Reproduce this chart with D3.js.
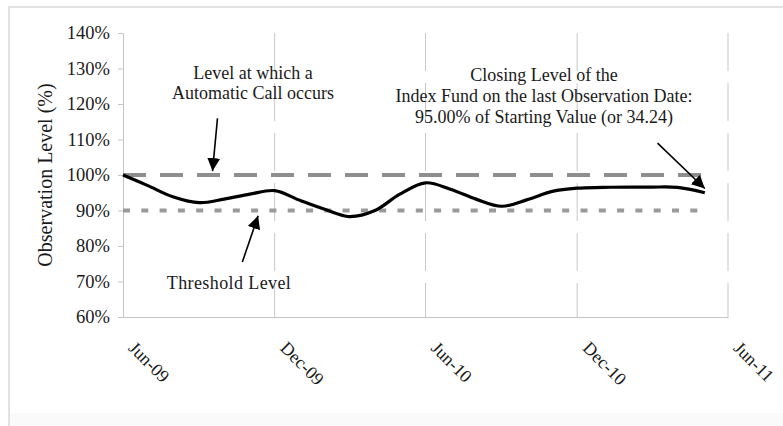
<!DOCTYPE html>
<html>
<head>
<meta charset="utf-8">
<script src="https://cdn.jsdelivr.net/npm/d3@7"></script>
<style>
  html, body { margin: 0; padding: 0; background: #fff; }
  svg { display: block; }
  text { font-family: "Liberation Serif", "Times New Roman", serif; fill: #1a1a1a; }
</style>
</head>
<body>
<svg id="chart" width="783" height="426"></svg>
<script>
// Observation dates and index level (as % of starting value)
const obsDates = [
  "2009-06-01", "2009-07-01", "2009-08-01", "2009-09-01", "2009-10-01", "2009-11-01",
  "2009-12-01", "2010-01-01", "2010-02-01", "2010-03-01", "2010-04-01", "2010-05-01",
  "2010-06-01", "2010-07-01", "2010-08-01", "2010-09-01", "2010-10-01", "2010-11-01",
  "2010-12-01", "2011-01-01", "2011-02-01", "2011-03-01", "2011-04-01", "2011-05-04"
];
const obsLevels = [
  100.0, 97.0, 93.8, 92.2, 93.2, 94.6,
  95.6, 92.8, 90.2, 88.3, 90.0, 94.6,
  97.8, 96.0, 93.2, 91.2, 93.0, 95.4,
  96.3, 96.5, 96.6, 96.6, 96.5, 95.0
];

// Reference levels
const callLevel = 100;
const thresholdLevel = 90;

// Axis ticks
const xTickDates = ["2009-06-01", "2009-12-01", "2010-06-01", "2010-12-01", "2011-06-01"];
const xTickLabels = ["Jun-09", "Dec-09", "Jun-10", "Dec-10", "Jun-11"];
const yTickValues = [60, 70, 80, 90, 100, 110, 120, 130, 140];

const parse = d3.timeParse("%Y-%m-%d");
const data = obsDates.map((d, i) => ({ date: parse(d), value: obsLevels[i] }));

const svg = d3.select("#chart");
const plotL = 123, plotR = 728, plotT = 33, plotB = 317;

const x = d3.scaleTime()
  .domain([parse(xTickDates[0]), parse(xTickDates[xTickDates.length - 1])])
  .range([plotL, plotR]);
const y = d3.scaleLinear().domain([60, 140]).range([plotB, plotT]);

// Frame
svg.append("rect").attr("x", 10).attr("y", 413).attr("width", 773).attr("height", 13).attr("fill", "#fafafa");
svg.append("line").attr("x1", 9).attr("x2", 9).attr("y1", 6).attr("y2", 426)
  .attr("stroke", "#e2e2e2").attr("stroke-width", 2);
svg.append("line").attr("x1", 8).attr("x2", 783).attr("y1", 7).attr("y2", 7)
  .attr("stroke", "#e2e2e2").attr("stroke-width", 2);

// Vertical gridlines
svg.append("g")
  .selectAll("line")
  .data(xTickDates.slice(1))
  .join("line")
  .attr("x1", d => x(parse(d))).attr("x2", d => x(parse(d)))
  .attr("y1", plotT).attr("y2", plotB)
  .attr("stroke", "#c8c8c8").attr("stroke-width", 1)
  .attr("stroke-dasharray", "38,12");

// Y axis
const yAxis = svg.append("g")
  .attr("transform", `translate(${plotL},0)`)
  .call(d3.axisLeft(y).tickValues(yTickValues).tickFormat(d => d + "%").tickSize(5).tickPadding(8));
yAxis.select(".domain").attr("stroke", "#c4c4c4");
yAxis.selectAll(".tick line").attr("stroke", "#c4c4c4");
yAxis.selectAll(".tick text")
  .attr("font-family", "Liberation Serif, Times New Roman, serif")
  .attr("font-size", 18.5).attr("fill", "#1a1a1a");

// X axis
const xAxis = svg.append("g")
  .attr("transform", `translate(0,${plotB})`)
  .call(d3.axisBottom(x).tickValues(xTickDates.map(parse)).tickFormat((d, i) => xTickLabels[i]).tickSize(0).tickPadding(0));
xAxis.select(".domain").attr("stroke", "#c4c4c4");
xAxis.selectAll(".tick text")
  .attr("font-family", "Liberation Serif, Times New Roman, serif")
  .attr("font-size", 18).attr("fill", "#1a1a1a")
  .attr("text-anchor", "start")
  .attr("dy", null).attr("y", null)
  .attr("transform", "translate(4,32) rotate(45)");

// Y axis title
svg.append("text")
  .attr("transform", `translate(52,${(plotT + plotB) / 2}) rotate(-90)`)
  .attr("text-anchor", "middle")
  .attr("font-size", 20)
  .text("Observation Level (%)");

// Reference lines across the observation period
const firstDate = data[0].date, lastDate = data[data.length - 1].date;
svg.append("line")
  .attr("x1", x(firstDate)).attr("x2", x(lastDate))
  .attr("y1", y(callLevel)).attr("y2", y(callLevel))
  .attr("stroke", "#8e8e8e").attr("stroke-width", 4)
  .attr("stroke-dasharray", "23,14");
svg.append("line")
  .attr("x1", x(firstDate)).attr("x2", x(lastDate))
  .attr("y1", y(thresholdLevel)).attr("y2", y(thresholdLevel))
  .attr("stroke", "#9a9a9a").attr("stroke-width", 4)
  .attr("stroke-dasharray", "7,11.3");

// Index level line
const levelLine = d3.line()
  .x(d => x(d.date))
  .y(d => y(d.value))
  .curve(d3.curveCatmullRom.alpha(0.5));
svg.append("path")
  .datum(data)
  .attr("fill", "none")
  .attr("stroke", "#000")
  .attr("stroke-width", 3.2)
  .attr("d", levelLine);

// Arrow head
svg.append("defs").append("marker")
  .attr("id", "head")
  .attr("markerUnits", "userSpaceOnUse")
  .attr("viewBox", "0 0 12 12")
  .attr("refX", 12).attr("refY", 6)
  .attr("markerWidth", 13).attr("markerHeight", 13)
  .attr("orient", "auto")
  .append("path").attr("d", "M0,0 L12,6 L0,12 Z").attr("fill", "#000");

function arrow(d0, v0, d1, v1) {
  svg.append("line")
    .attr("x1", x(parse(d0))).attr("y1", y(v0))
    .attr("x2", x(parse(d1))).attr("y2", y(v1))
    .attr("stroke", "#000").attr("stroke-width", 1.6)
    .attr("marker-end", "url(#head)");
}

function label(lines, cx, baseline, spacing, tracking) {
  const t = svg.append("text").attr("text-anchor", "middle").attr("font-size", 18)
    .attr("letter-spacing", tracking || 0);
  lines.forEach((s, i) => {
    t.append("tspan").attr("x", cx).attr("y", baseline + i * spacing).text(s);
  });
}

label(["Level at which a", "Automatic Call occurs"], 253, 79, 20);
arrow("2009-09-23", 116, "2009-09-17", 101.1);

label(["Threshold Level"], 229, 289, 0, 0.4);
arrow("2009-10-23", 75.5, "2009-11-11", 88.5);

label(["Closing Level of the", "Index Fund on the last Observation Date:",
       "95.00% of Starting Value (or 34.24)"], 544, 81, 21);
arrow("2011-03-08", 109, obsDates[obsDates.length - 1], 96.2);
</script>
</body>
</html>
